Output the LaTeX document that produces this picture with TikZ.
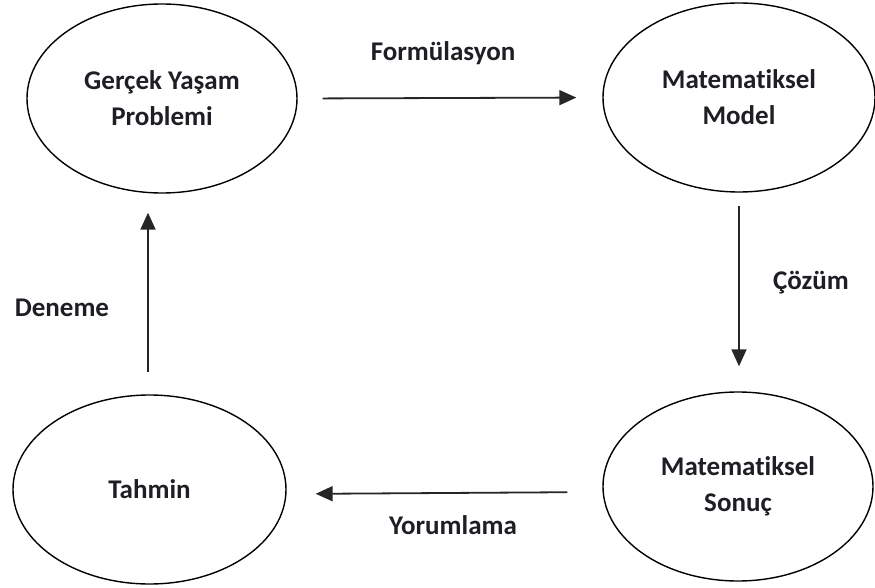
\documentclass[tikz,border=0pt]{standalone}
\usepackage{fontspec}
\setmainfont[Ligatures={NoCommon}]{Carlito}
\usetikzlibrary{shapes.geometric,arrows.meta}
\definecolor{ink}{HTML}{1E1E24}
\tikzset{
  oval/.style={ellipse, draw=black, line width=1.4pt, inner sep=0pt, align=center, text=ink, font=\fontsize{27}{36}\selectfont\bfseries},
  lbl/.style={text=ink, font=\fontsize{27}{30}\selectfont\bfseries, inner sep=0pt},
  arr/.style={draw=black!85, line width=1.8pt, -{Triangle[length=17pt,width=15pt]}}
}
\begin{document}
\begin{tikzpicture}[x=1pt,y=-1pt]
\useasboundingbox (0,0) rectangle (875,588);
\node[oval, minimum width=270pt, minimum height=189pt] (TL) at (162,98.5) {Gerçek Yaşam\\Problemi};
\node[oval, minimum width=272pt, minimum height=189pt] (TR) at (739,97.5) {Matematiksel\\Model};
\node[oval, minimum width=273pt, minimum height=189pt] (BL) at (149.5,489.5) {Tahmin};
\node[oval, minimum width=270pt, minimum height=189pt] (BR) at (738,486.5) {Matematiksel\\Sonuç};
\draw[arr, shorten <=25pt, shorten >=26pt] (TL.east) -- (TR.west);
\draw[arr, shorten <=13pt, shorten >=25pt] (TR.south) -- (TR.south |- BR.north);
\draw[arr, shorten <=35pt, shorten >=29pt] ([yshift=-5.5pt]BR.west) -- ([yshift=-4.5pt]BL.east);
\draw[arr, shorten <=22pt, shorten >=19pt] ([xshift=-1.5pt]BL.north) -- ([xshift=-1.5pt]BL.north |- TL.south);
\node[lbl] (f) at (443,53) {Formülasyon};
\node[lbl] (c) at (811,283) {Çözüm};
\node[lbl] (y) at (453,525) {Yorumlama};
\node[lbl] (d) at (62,308) {Deneme};
\end{tikzpicture}
\end{document}
